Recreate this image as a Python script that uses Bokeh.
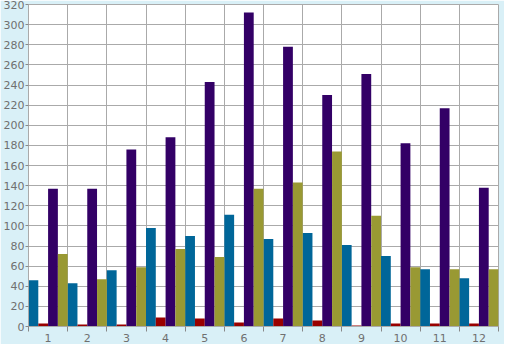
from bokeh.plotting import figure
from bokeh.models import ColumnDataSource, FixedTicker, Range1d
from bokeh.transform import dodge
from bokeh.embed import file_html
from bokeh.resources import INLINE

categories = [1, 2, 3, 4, 5, 6, 7, 8, 9, 10, 11, 12]
blue_vals = [46, 43, 56, 98, 90, 111, 87, 93, 81, 70, 57, 48]
red_vals = [3, 2, 2, 9, 8, 4, 8, 6, 1, 3, 3, 3]
purple_vals = [137, 137, 176, 188, 243, 312, 278, 230, 251, 182, 217, 138]
olive_vals = [72, 47, 59, 77, 69, 137, 143, 174, 110, 59, 57, 57]
y_ticks = list(range(0, 321, 20))

source = ColumnDataSource(dict(x=categories, blue=blue_vals, red=red_vals,
                               purple=purple_vals, olive=olive_vals))

p = figure(width=504, height=344, output_backend="svg", toolbar_location=None,
           x_range=Range1d(0.5, 12.5), y_range=Range1d(0, 320),
           min_border_left=4, min_border_right=6, min_border_top=4, min_border_bottom=4)

series = [("blue", "#006699", -0.375), ("red", "#990000", -0.125),
          ("purple", "#330066", 0.125), ("olive", "#999933", 0.375)]
for col, color, off in series:
    p.vbar(x=dodge("x", off), top=col, width=0.25, source=source,
           fill_color=color, line_color=None)

p.background_fill_color = "white"
p.border_fill_color = "#d9f0f7"
p.outline_line_color = "#aaaaaa"
p.outline_line_width = 1

boundaries = [i + 0.5 for i in range(0, 13)]
p.xaxis.ticker = FixedTicker(ticks=categories, minor_ticks=boundaries)
p.xgrid.ticker = FixedTicker(ticks=boundaries)
p.yaxis.ticker = FixedTicker(ticks=y_ticks)

for g in (p.xgrid, p.ygrid):
    g.grid_line_color = "#aaaaaa"
    g.grid_line_width = 1

p.xaxis.major_tick_line_color = None
p.xaxis.minor_tick_line_color = "#888888"
p.xaxis.minor_tick_in = 0
p.xaxis.minor_tick_out = 5
p.yaxis.minor_tick_line_color = None
p.yaxis.major_tick_in = 0
p.yaxis.major_tick_out = 3
p.yaxis.major_tick_line_color = "#888888"

for ax in (p.xaxis, p.yaxis):
    ax.axis_line_color = "#aaaaaa"
    ax.axis_line_width = 1
    ax.major_label_text_color = "#707070"
    ax.major_label_text_font = "DejaVu Sans"
    ax.major_label_text_font_size = "11px"
    ax.major_label_standoff = 1

open("out.html", "w").write(file_html(p, INLINE))
